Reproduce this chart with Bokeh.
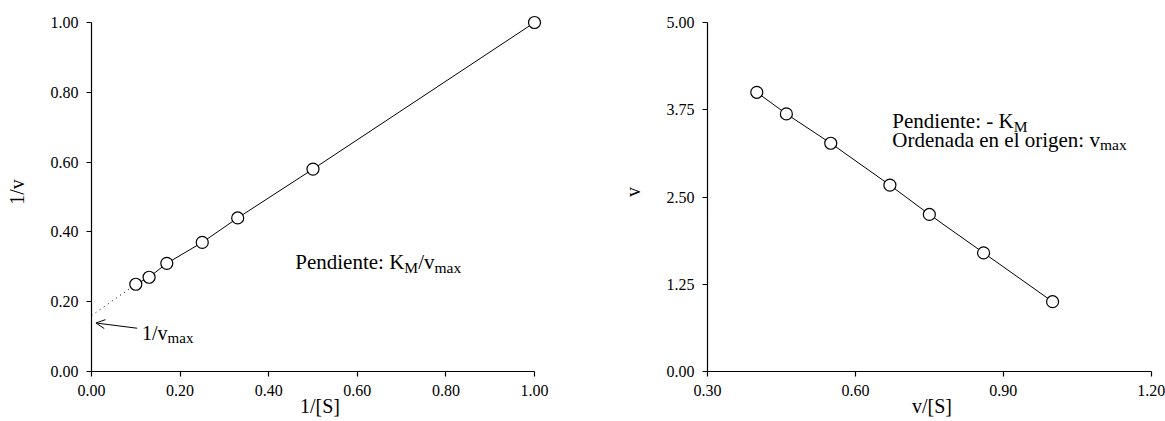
from bokeh.plotting import figure
from bokeh.models import FixedTicker, NumeralTickFormatter, Label, Arrow, OpenHead
from bokeh.layouts import row
from bokeh.embed import file_html
from bokeh.resources import INLINE

# ---------------- data ----------------
inv_s = [0.10, 0.13, 0.17, 0.25, 0.33, 0.50, 1.00]          # 1/[S]
inv_v = [0.25, 0.27, 0.31, 0.37, 0.44, 0.58, 1.00]          # 1/v
intercept_inv_vmax = 0.16                                   # 1/vmax (extrapolated)

v_over_s = [0.40, 0.46, 0.55, 0.67, 0.75, 0.86, 1.00]       # v/[S]
v_vals = [4.00, 3.69, 3.27, 2.67, 2.25, 1.70, 1.00]         # v

left_xticks = [0.0, 0.2, 0.4, 0.6, 0.8, 1.0]
left_yticks = [0.0, 0.2, 0.4, 0.6, 0.8, 1.0]
right_xticks = [0.30, 0.60, 0.90, 1.20]
right_yticks = [0.0, 1.25, 2.50, 3.75, 5.00]

FONT = "'Liberation Serif', 'Times New Roman', serif"

# Times-compatible advance widths (per 1000 em)
WID = {' ': 250, '-': 333, '/': 278, ':': 278, '1': 500, 'K': 722, 'M': 889,
       'O': 722, 'P': 556, 'a': 444, 'd': 500, 'e': 444, 'g': 500, 'i': 278,
       'l': 278, 'm': 778, 'n': 500, 'o': 500, 'r': 333, 't': 278, 'v': 500,
       'x': 500}


def tw(s, size):
    return sum(WID.get(c, 500) for c in s) / 1000.0 * size


def rich(p, x, y, parts, size=21, sub_size=15.5, sub_drop=5):
    off = 0.0
    for txt, is_sub in parts:
        fs = sub_size if is_sub else size
        p.add_layout(Label(x=x, y=y, x_offset=off,
                           y_offset=-sub_drop if is_sub else 0,
                           text=txt, text_font=FONT,
                           text_font_size=f"{fs}px",
                           text_baseline="alphabetic", text_align="left",
                           text_color="black"))
        off += tw(txt, fs)


def style(p, xticks, yticks, xb, yb, xlabel, ylabel):
    p.xaxis.ticker = FixedTicker(ticks=xticks)
    p.yaxis.ticker = FixedTicker(ticks=yticks)
    p.xaxis.formatter = NumeralTickFormatter(format="0.00")
    p.yaxis.formatter = NumeralTickFormatter(format="0.00")
    p.xaxis.bounds = xb
    p.yaxis.bounds = yb
    p.xaxis.axis_label = xlabel
    p.yaxis.axis_label = ylabel
    for ax in p.axis:
        ax.major_tick_in = 0
        ax.major_tick_out = 5
        ax.minor_tick_in = 0
        ax.minor_tick_out = 0
        ax.axis_line_color = "black"
        ax.axis_line_width = 1.2
        ax.major_tick_line_color = "black"
        ax.major_tick_line_width = 1.2
        ax.major_label_text_font = FONT
        ax.major_label_text_font_size = "16px"
        ax.major_label_text_color = "black"
        ax.major_label_standoff = 8
        ax.axis_label_text_font = FONT
        ax.axis_label_text_font_style = "normal"
        ax.axis_label_text_font_size = "20px"
        ax.axis_label_text_color = "black"
    p.xaxis.axis_label_standoff = -4
    p.yaxis.axis_label_standoff = 20
    p.grid.visible = False
    p.outline_line_color = None


# ---------------- left: Lineweaver-Burk ----------------
p1 = figure(width=590, height=421, x_range=(0, 1.0316), y_range=(0, 1.0287),
            output_backend="svg", toolbar_location=None,
            min_border_left=91, min_border_right=42,
            min_border_top=12, min_border_bottom=50)
style(p1, left_xticks, left_yticks, (0, 1), (0, 1), "1/[S]", "1/v")

p1.line([0, inv_s[0]], [intercept_inv_vmax, inv_v[0]], line_color="black",
        line_width=1, line_dash="1 4")
p1.line(inv_s, inv_v, line_color="black", line_width=1)
p1.scatter(inv_s, inv_v, size=12, fill_color="white", line_color="black",
           line_width=1.2)

p1.add_layout(Arrow(end=OpenHead(size=9, line_width=1, line_color="black"),
                    x_start=0.103, y_start=0.124, x_end=0.01, y_end=0.139,
                    line_width=1, line_color="black"))
rich(p1, 0.114, 0.109, [("1/v", False), ("max", True)], size=20, sub_size=15)
rich(p1, 0.46, 0.313, [("Pendiente: K", False), ("M", True), ("/v", False),
                       ("max", True)])

# ---------------- right: Eadie-Hofstee ----------------
p2 = figure(width=575, height=421, x_range=(0.3, 1.2108), y_range=(0, 5.1433),
            output_backend="svg", toolbar_location=None,
            min_border_left=117, min_border_right=9,
            min_border_top=12, min_border_bottom=50)
style(p2, right_xticks, right_yticks, (0.3, 1.2), (0, 5), "v/[S]", "v")

p2.line(v_over_s, v_vals, line_color="black", line_width=1)
p2.scatter(v_over_s, v_vals, size=12, fill_color="white", line_color="black",
           line_width=1.2)

rich(p2, 0.675, 3.586, [("Pendiente: - K", False), ("M", True)])
rich(p2, 0.675, 3.32, [("Ordenada en el origen: v", False), ("max", True)])

layout = row(p1, p2)
open("out.html", "w").write(file_html(layout, INLINE))
